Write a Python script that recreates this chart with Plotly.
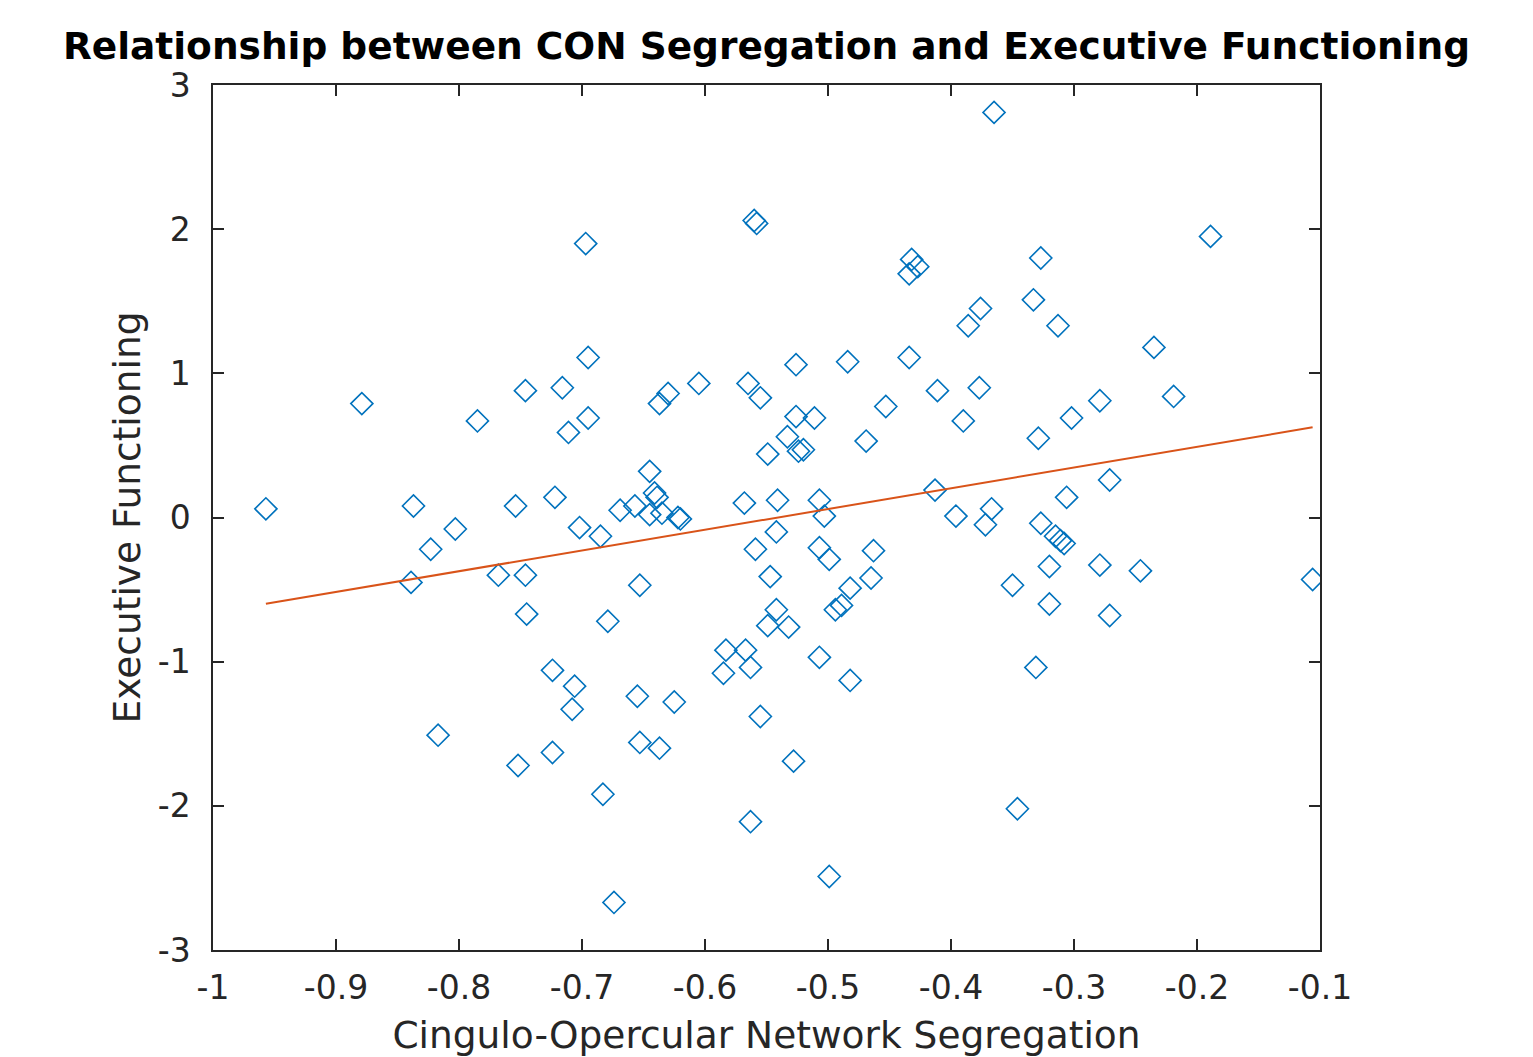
import numpy as np
import plotly.graph_objects as go

# Cingulo-opercular network segregation per participant
con_segregation = [
    -0.957, -0.879, -0.837, -0.839, -0.823, -0.803, -0.817, -0.785, -0.768, -0.754,
    -0.746, -0.746, -0.745, -0.752, -0.724, -0.722, -0.716, -0.711, -0.724, -0.706,
    -0.708, -0.697, -0.695, -0.695, -0.702, -0.685, -0.683, -0.679, -0.674, -0.669,
    -0.657, -0.653, -0.655, -0.653, -0.637, -0.645, -0.641, -0.639, -0.645, -0.635,
    -0.637, -0.630, -0.625, -0.622, -0.620, -0.605, -0.583, -0.585, -0.568, -0.567,
    -0.563, -0.565, -0.555, -0.560, -0.558, -0.559, -0.555, -0.563, -0.549, -0.547,
    -0.549, -0.542, -0.542, -0.541, -0.532, -0.533, -0.526, -0.526, -0.524, -0.520,
    -0.528, -0.511, -0.507, -0.507, -0.507, -0.503, -0.499, -0.499, -0.494, -0.489,
    -0.484, -0.482, -0.482, -0.469, -0.465, -0.463, -0.453, -0.434, -0.432, -0.434,
    -0.427, -0.411, -0.413, -0.396, -0.390, -0.386, -0.376, -0.377, -0.372, -0.367,
    -0.365, -0.350, -0.346, -0.333, -0.327, -0.329, -0.327, -0.331, -0.320, -0.320,
    -0.315, -0.311, -0.308, -0.313, -0.306, -0.302, -0.279, -0.279, -0.271, -0.271,
    -0.246, -0.235, -0.219, -0.189, -0.106,
]

# Executive functioning composite score per participant
exec_functioning = [
    0.06, 0.79, 0.08, -0.45, -0.22, -0.08, -1.51, 0.67, -0.40, 0.08,
    0.88, -0.40, -0.67, -1.72, -1.06, 0.14, 0.90, 0.59, -1.63, -1.17,
    -1.33, 1.90, 1.11, 0.69, -0.07, -0.13, -1.92, -0.72, -2.67, 0.05,
    0.08, -0.47, -1.24, -1.56, -1.60, 0.32, 0.17, 0.14, 0.02, 0.03,
    0.79, 0.86, -1.28, 0.00, -0.01, 0.93, -0.92, -1.08, 0.10, -0.92,
    -1.04, 0.93, 0.83, 2.06, 2.04, -0.22, -1.38, -2.11, 0.44, -0.41,
    -0.75, -0.64, -0.10, 0.12, -0.76, 0.56, 1.06, 0.70, 0.46, 0.47,
    -1.69, 0.69, 0.12, -0.21, -0.97, 0.01, -0.29, -2.49, -0.64, -0.61,
    1.08, -0.49, -1.13, 0.53, -0.42, -0.23, 0.77, 1.11, 1.79, 1.69,
    1.74, 0.88, 0.19, 0.01, 0.67, 1.33, 1.45, 0.90, -0.05, 0.06,
    2.81, -0.47, -2.02, 1.51, 1.80, 0.55, -0.04, -1.04, -0.34, -0.60,
    -0.13, -0.16, -0.18, 1.33, 0.14, 0.69, 0.81, -0.33, 0.26, -0.68,
    -0.37, 1.18, 0.84, 1.95, -0.43,
]

x_ticks = [-1, -0.9, -0.8, -0.7, -0.6, -0.5, -0.4, -0.3, -0.2, -0.1]
x_tick_text = ["-1", "-0.9", "-0.8", "-0.7", "-0.6", "-0.5", "-0.4", "-0.3", "-0.2", "-0.1"]
y_ticks = [-3, -2, -1, 0, 1, 2, 3]
y_tick_text = ["-3", "-2", "-1", "0", "1", "2", "3"]

x = np.array(con_segregation)
y = np.array(exec_functioning)

# least-squares line spanning the observed range
slope, intercept = np.polyfit(x, y, 1)
fit_x = np.array([x.min(), x.max()])
fit_y = slope * fit_x + intercept

AXIS_COLOR = "#262626"
FONT = "DejaVu Sans"

fig = go.Figure()
fig.add_trace(go.Scatter(
    x=x, y=y, mode="markers",
    marker=dict(symbol="diamond-open", size=17, color="#0072BD",
                line=dict(width=1.6, color="#0072BD")),
    showlegend=False,
))
fig.add_trace(go.Scatter(
    x=fit_x, y=fit_y, mode="lines",
    line=dict(color="#D95319", width=2),
    showlegend=False,
))

axis_common = dict(
    showgrid=False, zeroline=False, automargin=False,
    showline=True, linecolor=AXIS_COLOR, linewidth=1.5,
    mirror="ticks", ticks="inside", ticklen=11, tickwidth=1.5, tickcolor=AXIS_COLOR,
    tickfont=dict(family=FONT, size=33, color=AXIS_COLOR),
)

fig.update_layout(
    width=1533, height=1057,
    margin=dict(l=213, r=213, t=85, b=107),
    paper_bgcolor="white", plot_bgcolor="white",
    title=dict(
        text="<b>Relationship between CON Segregation and Executive Functioning</b>",
        font=dict(family=FONT, size=37.5, color="black"),
        x=0.5, xref="paper", xanchor="center",
        y=1 - 46 / 1057, yref="container", yanchor="middle",
    ),
    xaxis=dict(
        range=[-1, -0.1], tickvals=x_ticks, ticktext=x_tick_text,
        ticklabelstandoff=8,
        title=dict(text="Cingulo-Opercular Network Segregation",
                   font=dict(family=FONT, size=37.5, color=AXIS_COLOR), standoff=16),
        **axis_common,
    ),
    yaxis=dict(
        range=[-3, 3], tickvals=y_ticks, ticktext=y_tick_text,
        ticklabelstandoff=14,
        title=dict(text="Executive Functioning",
                   font=dict(family=FONT, size=37.5, color=AXIS_COLOR), standoff=6),
        **axis_common,
    ),
)

fig.write_html("out.html")
